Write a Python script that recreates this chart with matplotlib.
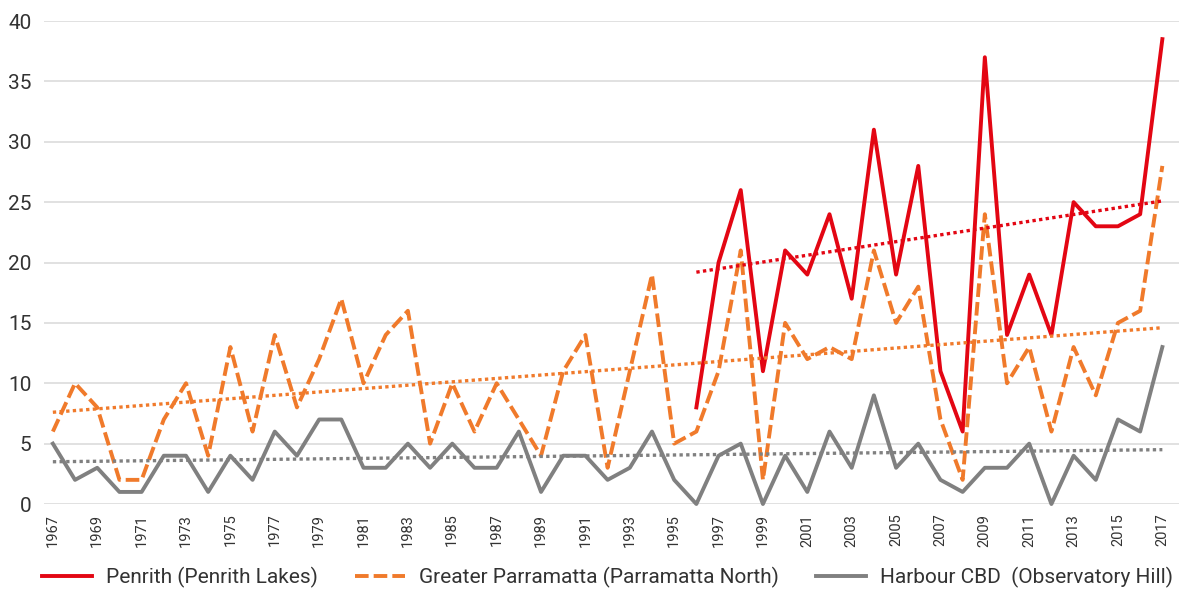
import matplotlib
matplotlib.use("Agg")
import matplotlib.pyplot as plt

years = list(range(1967, 2018))
penrith_years = list(range(1996, 2018))

penrith = [8, 20, 26, 11, 21, 19, 24, 17, 31, 19, 28, 11, 6, 37,
           14, 19, 14, 25, 23, 23, 24, 38.5]
parramatta = [6, 10, 8, 2, 2, 7, 10, 4, 13, 6, 14, 8, 12, 17, 10, 14, 16,
              5, 10, 6, 10, 7, 4, 11, 14, 3, 11, 19, 5, 6, 11, 21, 2, 15,
              12, 13, 12, 21, 15, 18, 7, 2, 24, 10, 13, 6, 13, 9, 15, 16, 28]
harbour = [5, 2, 3, 1, 1, 4, 4, 1, 4, 2, 6, 4, 7, 7, 3, 3, 5, 3, 5, 3, 3,
           6, 1, 4, 4, 2, 3, 6, 2, 0, 4, 5, 0, 4, 1, 6, 3, 9, 3, 5, 2, 1,
           3, 3, 5, 0, 4, 2, 7, 6, 13]

# trend lines (start / end of each fitted line)
penrith_trend_x = [1996, 2017]
penrith_trend = [19.2, 25.1]
full_trend_x = [1967, 2017]
parramatta_trend = [7.6, 14.6]
harbour_trend = [3.5, 4.5]

labels = ["Penrith (Penrith Lakes)",
          "Greater Parramatta (Parramatta North)",
          "Harbour CBD  (Observatory Hill)"]

RED = "#e30613"
ORANGE = "#f07a2b"
GREY = "#808080"
TXT = "#333333"

plt.rcParams["font.family"] = ["Roboto", "DejaVu Sans"]

fig = plt.figure(figsize=(11.79, 5.94), dpi=100)
ax = fig.add_axes([0.0373, 0.1515, 0.9627, 0.8131])

ax.plot(penrith_years, penrith, color=RED, linewidth=2.8, label=labels[0],
        zorder=5, clip_on=False)
ax.plot(years, parramatta, color=ORANGE, linewidth=2.8, linestyle=(0, (3.5, 1.3)),
        label=labels[1], zorder=4, clip_on=False)
ax.plot(years, harbour, color=GREY, linewidth=2.8, label=labels[2],
        zorder=3, clip_on=False)

# dotted trend lines
ax.plot(penrith_trend_x, penrith_trend, color=RED, linewidth=2.4,
        linestyle=(0, (1, 1)), zorder=6)
ax.plot(full_trend_x, parramatta_trend, color=ORANGE, linewidth=2.4,
        linestyle=(0, (1, 1)), zorder=6)
ax.plot(full_trend_x, harbour_trend, color=GREY, linewidth=2.4,
        linestyle=(0, (1, 1)), zorder=6)

ax.set_xlim(1966.6, 2017.75)
ax.set_ylim(0, 40)
ax.set_yticks(range(0, 41, 5))
ax.set_xticks(years[::2])
ax.set_xticklabels([str(y) for y in years[::2]], rotation=90, fontsize=10.5,
                   color=TXT)
ax.tick_params(axis="y", labelsize=15, colors=TXT, length=0, pad=9)
ax.tick_params(axis="x", length=0, pad=7)
ax.grid(True, axis="y", color="#dcdcdc", linewidth=1.2)
for s in ax.spines.values():
    s.set_visible(False)

ax.legend(loc="center left", bbox_to_anchor=(-0.002, -0.152), ncol=3,
          frameon=False, fontsize=15, handlelength=2.4, handletextpad=0.7,
          columnspacing=1.75, labelcolor=TXT, borderaxespad=0, borderpad=0)

fig.savefig("out.png", dpi=100)
